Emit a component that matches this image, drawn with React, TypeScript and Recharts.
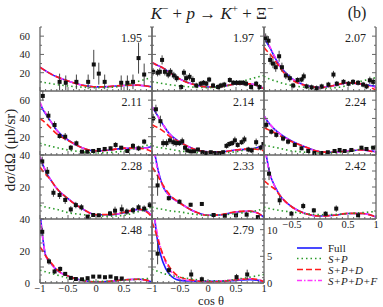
import { ComposedChart, Line, Scatter, ErrorBar, XAxis, YAxis } from 'recharts'

const FRAME = '#666'
const INK = '#222'
const BLUE = '#1c1cff'
const GREEN = '#2a9a2a'
const RED = '#ff1c1c'
const MAGENTA = '#ff38ff'
const SERIF = 'Liberation Serif, DejaVu Serif, serif'

// panel grid, px
const COL_X = [40, 152, 264]
const ROW_Y = [27, 91, 155, 219]
const PW = 112
const PH = 64
const LEFT_W = 30
const RIGHT_W = 22
const BOTTOM_H = 16
const TOP_PAD = 8

// x samples of the model curves
const COS = [-1, -0.95, -0.9, -0.8, -0.7, -0.5, -0.25, 0, 0.25, 0.5, 0.75, 0.9, 1]

const X_TICKS = [-1, -0.9, -0.8, -0.7, -0.6, -0.5, -0.4, -0.3, -0.2, -0.1, 0, 0.1, 0.2, 0.3, 0.4, 0.5, 0.6, 0.7, 0.8, 0.9, 1]
const X_MAJOR = [-1, -0.5, 0, 0.5, 1]
const Y70_TICKS = [0, 10, 20, 30, 40, 50, 60, 70]
const Y70_MAJOR = [0, 20, 40, 60]
const Y40_TICKS = [0, 5, 10, 15, 20, 25, 30, 35, 40]
const Y40_MAJOR = [0, 10, 20, 30, 40]
const Y12_TICKS = [0, 1, 2, 3, 4, 5, 6, 7, 8, 9, 10, 11, 12]
const Y12_MAJOR = [0, 5, 10]

type Pt = [number, number, number] // cos, dσ/dΩ, error

// W = 1.95
const FULL_195 = [26, 24, 22, 18.5, 15.5, 11, 6.5, 4.5, 5, 6, 6.3, 5.5, 4.5]
const SPDF_195 = [26, 24, 22, 18.5, 15.5, 11, 6.5, 4.5, 5, 6, 6.3, 5.5, 4.5]
const SPD_195 = [26, 24, 22, 18.5, 15.5, 11, 6.3, 4.5, 5, 6.2, 6.5, 5.5, 4]
const SP_195 = [10, 9.5, 9, 8, 7, 5.5, 4.2, 3.7, 4, 6, 10.5, 13, 15]
const PTS_195: Pt[] = [
  [-0.65, 10, 9], [-0.54, 9, 8], [-0.35, 10, 8], [-0.14, 10, 8], [-0.04, 29, 16], [0.05, 19, 12],
  [0.155, 10, 8], [0.45, 9, 8], [0.56, 9, 8], [0.66, 10, 8], [0.76, 36, 17], [0.86, 18, 12],
]

// W = 1.97
const FULL_197 = [31, 29.5, 28, 25, 21, 13, 7, 4.4, 5, 7.7, 7.7, 5.5, 2.6]
const SPDF_197 = [31, 29.5, 28, 25, 21, 13, 7, 4.4, 5, 7.7, 7.7, 5.5, 2.6]
const SPD_197 = [31, 29.5, 28, 25, 21, 13, 7, 4.4, 5, 7.5, 7.8, 5.5, 2.5]
const SP_197 = [10, 9.5, 9, 8, 7, 5.5, 4.2, 3.7, 4.5, 8.5, 13, 15.5, 17]
const PTS_197: Pt[] = [
  [-0.98, 21, 4], [-0.9, 20, 4], [-0.86, 21, 4], [-0.82, 34, 5], [-0.77, 21, 4], [-0.71, 18, 4],
  [-0.67, 21, 4], [-0.61, 17, 4], [-0.56, 14, 4], [-0.48, 4.4, 3], [-0.43, 20, 4], [-0.39, 14, 4],
  [-0.33, 15.5, 4], [-0.27, 12, 4], [-0.21, 6, 3], [-0.13, 8, 3], [-0.08, 9, 3], [-0.03, 8, 3],
  [0.02, 12.5, 3], [0.09, 6, 3], [0.18, 4.4, 3], [0.23, 6, 3], [0.29, 7, 3], [0.39, 12, 3],
  [0.45, 9, 3], [0.51, 9, 3], [0.57, 9, 3], [0.63, 9, 3], [0.68, 8, 3], [0.77, 4.4, 3],
  [0.86, 8, 3], [0.92, 4.4, 3],
]

// W = 2.07
const FULL_207 = [59, 53, 48, 36, 26, 13.5, 6, 3.7, 6, 8.8, 7.3, 6, 5]
const SPDF_207 = [61, 55, 49, 37, 26, 13.5, 6, 3.7, 6, 8.8, 7.3, 5.5, 3.7]
const SPD_207 = [48, 44, 41, 33, 24, 12, 6, 3.7, 6, 9, 7.5, 4, 0.8]
const SP_207 = [16, 14.5, 13, 11, 9, 6, 4, 3, 3.5, 6.2, 11, 13, 15]
const PTS_207: Pt[] = [
  [-0.97, 58, 5], [-0.92, 55, 5], [-0.89, 34, 5], [-0.84, 30, 5], [-0.79, 26, 5], [-0.73, 38, 6],
  [-0.68, 26, 5], [-0.61, 17, 4], [-0.54, 14, 4], [-0.48, 6, 3], [-0.4, 12, 3], [-0.33, 12.5, 3],
  [-0.29, 16, 4], [-0.24, 5, 3], [-0.15, 4, 3], [-0.06, 3, 3], [0.03, 5, 3], [0.15, 7, 3],
  [0.24, 18, 4], [0.3, 8, 3], [0.42, 10, 3], [0.51, 8, 3], [0.59, 10, 3], [0.68, 9, 3],
  [0.77, 7, 3], [0.83, 5, 3], [0.89, 11.7, 4], [0.95, 10, 4],
]

// W = 2.11
const FULL_211 = [56.5, 50, 45, 36, 27, 16.4, 8, 4.4, 5.5, 7.3, 7.3, 8, 9]
const SPDF_211 = [58, 51, 46, 36, 27, 16.4, 8, 4.4, 5.5, 7.3, 7.3, 7.5, 8]
const SPD_211 = [40, 37.5, 35, 29, 23, 16, 8, 4.4, 5.5, 7.5, 7.5, 6, 3.6]
const SP_211 = [12.8, 12, 11, 9.5, 8, 5.5, 3.5, 2.2, 2.8, 4.4, 8, 10.5, 12.8]
const PTS_211: Pt[] = [
  [-0.95, 64.6, 5], [-0.85, 43, 5], [-0.74, 32.8, 4], [-0.65, 20.8, 3], [-0.55, 20, 4], [-0.45, 8, 3],
  [-0.35, 12.8, 3], [-0.25, 3.6, 2], [-0.155, 3.6, 2], [-0.05, 4.4, 2], [0.05, 5.5, 2], [0.155, 6.6, 2],
  [0.26, 7.3, 2], [0.35, 11, 3], [0.45, 8, 2], [0.56, 4.4, 2], [0.66, 10, 3], [0.76, 7.3, 3],
  [0.86, 14.6, 3],
]

// W = 2.14
const FULL_214 = [53, 48, 43, 33, 24, 14, 6.6, 3.6, 3.6, 5.5, 6.6, 8.5, 11]
const SPDF_214 = [53, 48, 43, 33, 24, 14, 6.6, 3.6, 3.6, 5.5, 6.6, 8, 10]
const SPD_214 = [33, 31.5, 30, 26, 21, 14, 6.6, 3.6, 3.6, 5.5, 6.8, 6, 4.4]
const SP_214 = [10, 9.2, 8.5, 7.5, 6.5, 4.4, 3, 2.2, 2.5, 3.6, 6.6, 8, 9]
const PTS_214: Pt[] = [
  [-0.98, 40, 5], [-0.93, 50, 5], [-0.85, 37, 6], [-0.8, 13, 4], [-0.74, 13, 4], [-0.68, 16, 4],
  [-0.62, 14, 4], [-0.57, 13, 4], [-0.51, 13, 3], [-0.46, 15, 4], [-0.41, 8, 3], [-0.37, 5, 2],
  [-0.31, 4, 2], [-0.25, 4, 2], [-0.18, 6, 2], [-0.1, 3, 2], [-0.03, 2, 2], [0.05, 3, 2],
  [0.12, 2, 2], [0.2, 2, 2], [0.27, 3, 2], [0.33, 10, 3], [0.38, 12, 3], [0.43, 13, 3],
  [0.48, 16, 4], [0.53, 11, 3], [0.6, 14, 3], [0.65, 17, 4], [0.72, 6, 3], [0.78, 5, 3],
  [0.86, 14, 4], [0.94, 8, 3], [0.99, 12, 4],
]

// W = 2.24
const FULL_224 = [43, 38, 34, 27.5, 22.5, 15, 8.5, 3.6, 3, 4.6, 5.5, 4.5, 3.6]
const SPDF_224 = [43, 38, 34, 27.5, 22.5, 15, 8.5, 3.6, 3, 4.6, 5.5, 4.5, 3.6]
const SPD_224 = [30, 28.5, 27, 24, 20.5, 14.5, 8.5, 3.6, 3, 4.6, 5.6, 4.2, 2.2]
const SP_224 = [11, 10.2, 9.5, 8.3, 7, 4.4, 3, 2.2, 2.5, 3.6, 6.6, 8, 9]
const PTS_224: Pt[] = [
  [-0.96, 33, 4], [-0.87, 25.5, 3], [-0.78, 22, 3], [-0.66, 18, 3], [-0.57, 14.6, 3], [-0.45, 11, 2],
  [-0.33, 7.3, 2], [-0.21, 4.4, 2], [-0.1, 2.2, 1.5], [0.02, 2.2, 1.5], [0.14, 3, 1.5], [0.26, 4.4, 2],
  [0.35, 5.5, 2], [0.44, 4.4, 2], [0.56, 5.5, 2], [0.74, 8, 2], [0.83, 6.6, 2], [0.95, 8, 2],
]

// W = 2.28
const FULL_228 = [38.7, 34, 30, 24, 19, 12.7, 6.5, 2.7, 2.7, 4, 6, 5, 1.9]
const SPDF_228 = [39, 34.5, 30, 24, 19, 12.7, 6.5, 2.7, 2.7, 4, 6, 5, 1.9]
const SPD_228 = [32.5, 30, 28, 24, 19, 12.7, 6.5, 2.7, 2.8, 4.2, 6.2, 4.5, 1.2]
const SP_228 = [8.5, 8, 7.5, 6.7, 6, 4, 2.8, 1.9, 1.8, 2.3, 4.6, 6, 7.5]
const PTS_228: Pt[] = [
  [-0.96, 36, 3], [-0.87, 29.5, 3], [-0.76, 16.4, 2.5], [-0.65, 15, 2.5], [-0.55, 11.9, 2.5],
  [-0.45, 6, 2], [-0.36, 8.7, 2], [-0.26, 7.3, 2], [-0.15, 1.5, 1], [-0.05, 2.5, 1], [0.05, 2.3, 1],
  [0.25, 3.5, 1.5], [0.34, 5.2, 2.5], [0.46, 6, 3], [0.55, 4.6, 2], [0.66, 5.5, 2], [0.76, 7.3, 2],
  [0.86, 6.5, 2], [0.96, 8.7, 2],
]

// W = 2.33
const FULL_233 = [50, 41, 32, 20, 15, 10, 4.8, 2.3, 2.7, 4.4, 4.8, 3.5, 1]
const SPDF_233 = [48, 40, 31, 20, 15, 10, 4.8, 2.3, 2.7, 4.4, 4.8, 3.5, 1]
const SPD_233 = [32.5, 30, 27, 21, 16, 10, 4.8, 2.3, 2.8, 4.6, 5, 3.5, 1]
const SP_233 = [7.5, 7, 6.5, 6, 5.2, 4.4, 3, 2.3, 2.6, 3.4, 4.4, 5.5, 6.5]
const PTS_233: Pt[] = [
  [-0.9, 21, 6.5], [-0.7, 13, 1.5], [-0.51, 10.8, 1.5], [-0.31, 8.9, 1.2], [-0.11, 9.4, 1.2],
  [0.1, 2.5, 1], [0.3, 2, 1], [0.5, 2.3, 1], [0.69, 2.7, 1], [0.89, 1.2, 1],
]

// W = 2.42
const FULL_242 = [50, 38, 29, 20, 14, 7.5, 3.3, 1.9, 2.3, 3.4, 3.4, 2.5, 1.2]
const SPDF_242 = [48, 37, 29, 20, 14, 7.5, 3.3, 1.9, 2.3, 3.4, 3.4, 2.5, 1.2]
const SPD_242 = [24, 22.5, 21, 18.5, 14, 7.5, 3.3, 1.9, 2.3, 3.5, 3.5, 2.5, 1.2]
const SP_242 = [7.5, 7, 6.5, 5.8, 5.2, 4.4, 3.3, 2.7, 2.8, 3.4, 4, 4.4, 4.8]
const PTS_242: Pt[] = [
  [-0.91, 28.3, 4], [-0.72, 11.7, 3], [-0.51, 3.3, 1.5], [-0.3, 8.1, 2], [-0.11, 5.4, 1.5],
  [0.1, 3.3, 1.5], [0.29, 6.5, 2], [0.68, 2.3, 1],
]

// W = 2.48
const FULL_248 = [45, 28, 17.3, 12, 8, 4.4, 1.7, 0.6, 1, 2, 2.3, 1.8, 0.6]
const SPDF_248 = [43, 28, 17.5, 12, 8, 4.4, 1.7, 0.6, 1, 2, 2.3, 1.8, 0.6]
const SPD_248 = [22.5, 20, 17, 12.5, 8.5, 4.4, 1.7, 0.6, 1, 2, 2.3, 1.8, 0.6]
const SP_248 = [8, 7.5, 7, 6, 5, 3.1, 1.8, 1, 1.2, 1.7, 2.3, 2.7, 3.1]
const PTS_248: Pt[] = [
  [-0.96, 32, 2.5], [-0.84, 13.5, 2], [-0.74, 7.2, 1.5], [-0.64, 8.8, 1.5], [-0.55, 5.7, 1],
  [-0.45, 3.2, 1], [-0.36, 2.5, 1], [-0.25, 2.3, 1], [-0.15, 3, 1], [-0.05, 4, 1], [0.06, 4, 1],
  [0.16, 3.6, 1], [0.26, 4, 1], [0.36, 3, 1], [0.46, 2.8, 1],
]

// W = 2.79 (read on the right-hand 0–12 scale)
const FULL_279 = [18, 12, 7.8, 3.8, 1.8, 0.5, 0.35, 0.3, 0.35, 0.5, 0.6, 0.5, 0.3]
const SPDF_279 = [16, 12, 9, 5, 2.8, 0.8, 0.4, 0.3, 0.4, 0.6, 0.8, 0.6, 0.3]
const SPD_279 = [11.4, 10, 8.3, 5.2, 3.2, 1.1, 0.5, 0.2, 0.3, 0.6, 0.8, 0.6, 0.2]
const SP_279 = [2.6, 2.4, 2.2, 1.8, 1.5, 1.1, 0.7, 0.4, 0.4, 0.7, 1.1, 1.4, 1.6]
const PTS_279: Pt[] = [
  [-0.9, 5.5, 2], [-0.7, 2.4, 0.6], [-0.3, 1.6, 0.9], [-0.11, 0.7, 0.5], [0.51, 1.1, 0.6], [0.7, 1.6, 0.9],
]

interface Panel {
  w: string
  row: number
  col: number
  full: number[]
  spdf: number[]
  spd: number[]
  sp: number[]
  pts: Pt[]
  yLabels: number[]
  xLabels: number[]
  right?: boolean
}

const PANELS: Panel[] = [
  { w: '1.95', row: 0, col: 0, full: FULL_195, spdf: SPDF_195, spd: SPD_195, sp: SP_195, pts: PTS_195, yLabels: [20, 40, 60], xLabels: [] },
  { w: '1.97', row: 0, col: 1, full: FULL_197, spdf: SPDF_197, spd: SPD_197, sp: SP_197, pts: PTS_197, yLabels: [], xLabels: [] },
  { w: '2.07', row: 0, col: 2, full: FULL_207, spdf: SPDF_207, spd: SPD_207, sp: SP_207, pts: PTS_207, yLabels: [], xLabels: [] },
  { w: '2.11', row: 1, col: 0, full: FULL_211, spdf: SPDF_211, spd: SPD_211, sp: SP_211, pts: PTS_211, yLabels: [20, 40, 60], xLabels: [] },
  { w: '2.14', row: 1, col: 1, full: FULL_214, spdf: SPDF_214, spd: SPD_214, sp: SP_214, pts: PTS_214, yLabels: [], xLabels: [] },
  { w: '2.24', row: 1, col: 2, full: FULL_224, spdf: SPDF_224, spd: SPD_224, sp: SP_224, pts: PTS_224, yLabels: [], xLabels: [] },
  { w: '2.28', row: 2, col: 0, full: FULL_228, spdf: SPDF_228, spd: SPD_228, sp: SP_228, pts: PTS_228, yLabels: [20, 40], xLabels: [] },
  { w: '2.33', row: 2, col: 1, full: FULL_233, spdf: SPDF_233, spd: SPD_233, sp: SP_233, pts: PTS_233, yLabels: [], xLabels: [] },
  { w: '2.42', row: 2, col: 2, full: FULL_242, spdf: SPDF_242, spd: SPD_242, sp: SP_242, pts: PTS_242, yLabels: [], xLabels: [-0.5, 0, 0.5, 1] },
  { w: '2.48', row: 3, col: 0, full: FULL_248, spdf: SPDF_248, spd: SPD_248, sp: SP_248, pts: PTS_248, yLabels: [0, 20, 40], xLabels: [-1, -0.5, 0, 0.5] },
  { w: '2.79', row: 3, col: 1, full: FULL_279, spdf: SPDF_279, spd: SPD_279, sp: SP_279, pts: PTS_279, yLabels: [], xLabels: [-1, -0.5, 0, 0.5, 1], right: true },
]

const LEGEND = [
  { name: 'Full', italic: false, color: BLUE, dash: undefined },
  { name: 'S+P', italic: true, color: GREEN, dash: '1.5 3' },
  { name: 'S+P+D', italic: true, color: RED, dash: '6 3' },
  { name: 'S+P+D+F', italic: true, color: MAGENTA, dash: '5 2 1.5 2' },
]
const LEGEND_Y = [248, 258.5, 269.5, 280.5]

const near = (a: number, b: number) => Math.abs(a - b) < 1e-6
const fmt = (v: number) => (v < 0 ? '\u2212' + Math.abs(v) : String(v))
const AXIS = { stroke: FRAME, strokeWidth: 1.3 }
const TXT = { fontFamily: SERIF, fontSize: 10.5, fill: INK }

type Side = 'top' | 'bottom' | 'left' | 'right'

// inward ticks drawn by hand; x/y arrive on the axis line (tickSize/tickMargin = 0)
function tickRenderer(side: Side, majors: number[], labels: number[]) {
  return (props: any) => {
    const { x, y, payload } = props
    const v = payload.value
    const len = majors.some((m) => near(m, v)) ? 4 : 2
    const show = labels.some((l) => near(l, v))
    if (side === 'bottom')
      return (
        <g>
          <line x1={x} x2={x} y1={y} y2={y - len} stroke={FRAME} />
          {show && <text x={x} y={y + 9} textAnchor="middle" {...TXT}>{fmt(v)}</text>}
        </g>
      )
    if (side === 'top') return <line x1={x} x2={x} y1={y} y2={y + len} stroke={FRAME} />
    if (side === 'left')
      return (
        <g>
          <line x1={x} x2={x + len} y1={y} y2={y} stroke={FRAME} />
          {show && <text x={x - 10} y={y + 4} textAnchor="end" {...TXT}>{fmt(v)}</text>}
        </g>
      )
    return (
      <g>
        <line x1={x} x2={x - len} y1={y} y2={y} stroke={FRAME} />
        {show && <text x={x + 3} y={y + 4} textAnchor="start" {...TXT}>{fmt(v)}</text>}
      </g>
    )
  }
}

const square = (p: any) => <rect x={p.cx - 2} y={p.cy - 2} width={4} height={4} fill="#111" />

function PanelChart({ p }: { p: Panel }) {
  const small = p.row >= 2
  const yMax = small ? 40 : 70
  const yTicks = small ? Y40_TICKS : Y70_TICKS
  const yMajor = small ? Y40_MAJOR : Y70_MAJOR
  const yId = p.right ? 'r' : 'l'
  const curve = (vals: number[]) => COS.map((x, i) => ({ x, y: vals[i] }))
  const pts = p.pts.map(([x, y, e]) => ({ x, y, e }))
  const line = { type: 'monotone' as const, dataKey: 'y', xAxisId: 'b', yAxisId: yId, dot: false, activeDot: false, isAnimationActive: false, strokeWidth: 1.6 }
  const axisBase = { type: 'number' as const, allowDataOverflow: true, interval: 0 as const, tickSize: 0, tickMargin: 0, tickLine: false, axisLine: AXIS }

  return (
    <ComposedChart width={LEFT_W + PW + RIGHT_W} height={TOP_PAD + PH + BOTTOM_H} margin={{ top: TOP_PAD, right: 0, bottom: 0, left: 0 }}>
      <XAxis xAxisId="b" dataKey="x" domain={[-1, 1]} ticks={X_TICKS} height={BOTTOM_H} tick={tickRenderer('bottom', X_MAJOR, p.xLabels)} {...axisBase} />
      <XAxis xAxisId="t" orientation="top" dataKey="x" domain={[-1, 1]} ticks={X_TICKS} height={0} tick={tickRenderer('top', X_MAJOR, [])} {...axisBase} />
      <YAxis yAxisId="l" dataKey="y" domain={[0, yMax]} ticks={yTicks} width={LEFT_W} tick={tickRenderer('left', yMajor, p.yLabels)} {...axisBase} />
      <YAxis
        yAxisId="r"
        orientation="right"
        dataKey="y"
        domain={p.right ? [0, 12] : [0, yMax]}
        ticks={p.right ? Y12_TICKS : yTicks}
        width={RIGHT_W}
        tick={tickRenderer('right', p.right ? Y12_MAJOR : yMajor, p.right ? [0, 5, 10] : [])}
        {...axisBase}
      />
      <Line {...line} data={curve(p.full)} stroke={BLUE} />
      <Line {...line} data={curve(p.spdf)} stroke={MAGENTA} strokeDasharray="5 2 1.5 2" />
      <Line {...line} data={curve(p.spd)} stroke={RED} strokeDasharray="6 3" />
      <Line {...line} data={curve(p.sp)} stroke={GREEN} strokeDasharray="1.5 3" />
      <Scatter xAxisId="b" yAxisId={yId} dataKey="y" data={pts} shape={square} isAnimationActive={false}>
        <ErrorBar dataKey="e" direction="y" width={0} stroke="#444" strokeWidth={1} />
      </Scatter>
    </ComposedChart>
  )
}

export default function App() {
  return (
    <div style={{ position: 'absolute', left: 0, top: 0, width: 383, height: 307, background: '#fff', overflow: 'hidden' }}>
      {PANELS.map((p) => (
        <div key={p.w} style={{ position: 'absolute', left: COL_X[p.col] - LEFT_W, top: ROW_Y[p.row] - TOP_PAD }}>
          <PanelChart p={p} />
        </div>
      ))}
      <svg width={383} height={307} style={{ position: 'absolute', left: 0, top: 0, pointerEvents: 'none' }} fontFamily={SERIF} fill={INK}>
        <text x={212} y={19} textAnchor="middle" fontSize={17}>
          <tspan fontStyle="italic">K</tspan>
          <tspan dy={-7} fontSize={11}>{'\u2212'}</tspan>
          <tspan dy={7}>{' + '}</tspan>
          <tspan fontStyle="italic">p</tspan>
          <tspan>{' \u2192 '}</tspan>
          <tspan fontStyle="italic">K</tspan>
          <tspan dy={-7} fontSize={11}>+</tspan>
          <tspan dy={7}>{' + \u039E'}</tspan>
          <tspan dy={-7} fontSize={11}>{'\u2212'}</tspan>
        </text>
        <text x={357} y={18} textAnchor="middle" fontSize={16}>(b)</text>
        {PANELS.map((p) => (
          <text key={p.w} x={COL_X[p.col] + PW - 10} y={ROW_Y[p.row] + 15} textAnchor="end" fontSize={12}>
            {p.w}
          </text>
        ))}
        <text transform="translate(15,150) rotate(-90)" textAnchor="middle" fontSize={15}>
          dσ/dΩ (μb/sr)
        </text>
        <text x={211} y={304.5} textAnchor="middle" fontSize={12.5}>cos θ</text>
        {LEGEND.map((l, i) => (
          <g key={l.name}>
            <line x1={297} x2={322} y1={LEGEND_Y[i]} y2={LEGEND_Y[i]} stroke={l.color} strokeWidth={1.6} strokeDasharray={l.dash} />
            <text x={328} y={LEGEND_Y[i] + 4} fontSize={11} fontStyle={l.italic ? 'italic' : 'normal'}>
              {l.name}
            </text>
          </g>
        ))}
      </svg>
    </div>
  )
}
